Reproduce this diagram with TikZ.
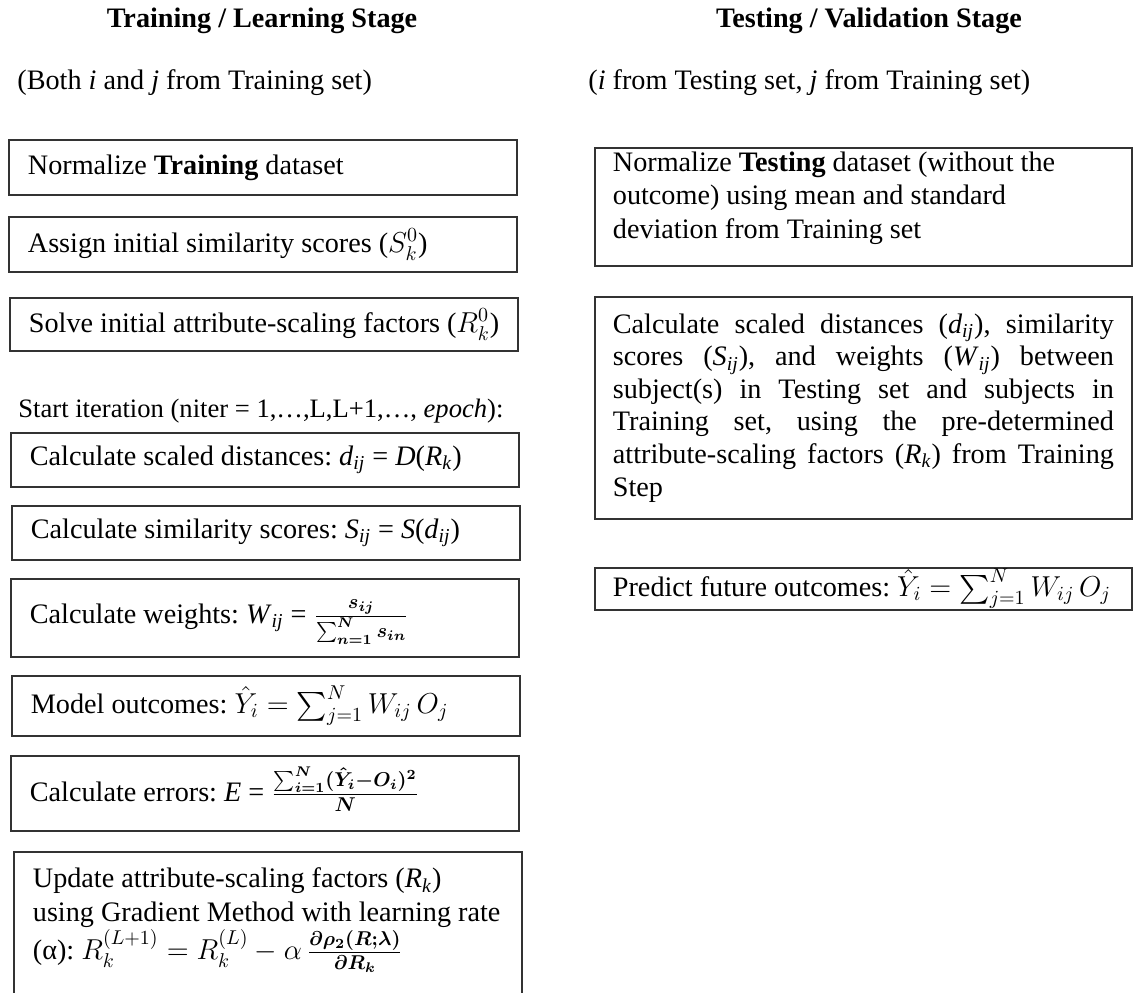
\documentclass[tikz,border=0pt]{standalone}
\usepackage{amsmath}
\usepackage{fontspec}
\setmainfont{Liberation Serif}
\frenchspacing
\newcommand\mybody{\fontsize{14.1}{16.8}\selectfont\frenchspacing}
\newcommand\mysmall{\fontsize{13.3}{16}\selectfont\frenchspacing}
\newcommand\isub[2]{\textit{#1}\textsubscript{\textit{#2}}}
\newcommand\jline[1]{\makebox[250.5pt][s]{#1}\\}
\newcommand\fst{\rule{0pt}{10.5pt}}
\newcommand\fsd{\rule[-5pt]{0pt}{0pt}}
\begin{document}
\begin{tikzpicture}[x=0.5pt,y=-0.5pt,
  box/.style={draw=black!80, line width=0.9pt, anchor=north west,
    inner xsep=9.5pt, inner ysep=0pt, align=flush left, font=\mybody, text width=235pt},
  rbox/.style={box, inner xsep=9pt, text width=250.5pt},
  title/.style={font=\mybody\bfseries, anchor=base},
  plain/.style={font=\mybody, anchor=base west, inner sep=0pt}]
\useasboundingbox (0,0) rectangle (1134,992);
\clip (0,0) rectangle (1134,992);
% titles
\node[title] (t1) at (262,27) {Training / Learning Stage};
\node[title] (t2) at (869,27) {Testing / Validation Stage};
\node[plain] (s1) at (17,89) {(Both \textit{i} and \textit{j} from Training set)};
\node[plain] (s2) at (588,89) {(\textit{i} from Testing set, \textit{j} from Training set)};
% left column
\node[box, minimum height=27.5pt] (b1) at (8,139) {Normalize \textbf{Training} dataset};
\node[box, minimum height=27.5pt] (b2) at (8,216) {Assign initial similarity scores ($S_k^0$)};
\node[box, minimum height=26.5pt] (b3) at (9,297) {\mbox{Solve initial attribute-scaling factors ($R_k^0$)}};
\node[plain, font=\mysmall] (it) at (18,417) {Start iteration (niter = 1,…,L,L+1,…, \textit{epoch}):};
\node[box, minimum height=27pt] (b4) at (10,432) {Calculate scaled distances: \isub{d}{ij} = \textit{D}(\isub{R}{k})};
\node[box, minimum height=27pt] (b5) at (11,505) {Calculate similarity scores: \isub{S}{ij} = \textit{S}(\isub{d}{ij})};
\node[box, minimum height=39pt] (b6) at (10,578) {Calculate weights: \isub{W}{ij} = $\frac{\fst\boldsymbol{s_{ij}}}{\fsd\boldsymbol{\sum_{n=1}^{N} s_{in}}}$};
\node[box, minimum height=30pt] (b7) at (11,675) {\mbox{Model outcomes: $\hat{Y}_i = \sum_{j=1}^{N} W_{ij}\,O_j$}};
\node[box, minimum height=37.5pt] (b8) at (10,755) {Calculate errors: \textit{E} = $\frac{\fst\boldsymbol{\sum_{i=1}^{N}(\hat{Y}_i - O_i)^2}}{\fsd\boldsymbol{N}}$};
\node[box, inner ysep=8pt] (b9) at (13,851) {\mbox{Update attribute-scaling factors (\isub{R}{k})}\\
\mbox{using Gradient Method with learning rate}\\
\mbox{(α): $R_k^{(L+1)} = R_k^{(L)} - \alpha\,\frac{\boldsymbol{\partial\rho_2(R;\lambda)}}{\boldsymbol{\partial R_k}}$}\rule[-60pt]{0pt}{0pt}};
% right column
\node[rbox, minimum height=59pt] (r1) at (594,147) {Normalize \textbf{Testing} dataset (without the\\
outcome) using mean and standard\\
deviation from Training set\rule[-12pt]{0pt}{0pt}};
\node[rbox, minimum height=111pt, font=\fontsize{14.1}{16.3}\selectfont] (r2) at (594,296) {\jline{Calculate scaled distances (\isub{d}{ij}), similarity}%
\jline{scores (\isub{S}{ij}), and weights (\isub{W}{ij}) between}%
\jline{subject(s) in Testing set and subjects in}%
\jline{Training set, using the pre-determined}%
\jline{attribute-scaling factors (\isub{R}{k}) from Training}%
Step};
\node[rbox, minimum height=21pt] (r3) at (594,567) {\mbox{Predict future outcomes: $\hat{Y}_i = \sum_{j=1}^{N} W_{ij}\,O_j$}};
\end{tikzpicture}
\end{document}
